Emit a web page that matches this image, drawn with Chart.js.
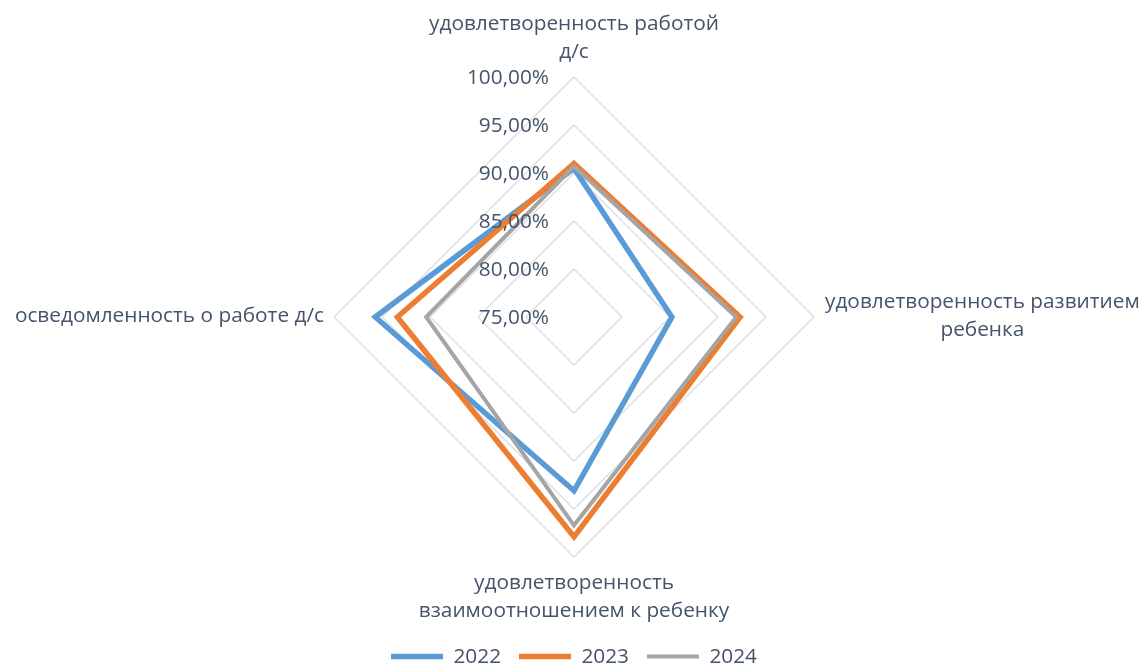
<!DOCTYPE html>
<html>
<head>
<meta charset="utf-8">
<script src="https://cdn.jsdelivr.net/npm/chart.js@4.4.1/dist/chart.umd.min.js"></script>
<style>
  html, body { margin: 0; padding: 0; background: #fff; }
  #wrap { width: 1140px; height: 668px; }
</style>
</head>
<body>
<div id="wrap"><canvas id="radar"></canvas></div>
<script>
const categories = [
  ["удовлетворенность работой", "д/с"],
  ["удовлетворенность развитием", "ребенка"],
  ["удовлетворенность", "взаимоотношением к ребенку"],
  ["осведомленность о работе д/с"]
];
const years = ["2022", "2023", "2024"];
const values2022 = [90.5, 85.2, 93.1, 95.7];
const values2023 = [91.0, 92.3, 97.9, 93.4];
const values2024 = [90.7, 91.9, 96.7, 90.4];
const tickValues = [75, 80, 85, 90, 95, 100];

const textColor = "#44546a";
const fontFamily = '"Open Sans", sans-serif';
const fontSize = 20.8;
const lineH = 28;

// Excel-style labels: ticks left of the axis, category labels as centered blocks
const excelLabels = {
  id: "excelLabels",
  afterDatasetsDraw(chart) {
    const r = chart.scales.r;
    const ctx = chart.ctx;
    ctx.save();
    ctx.fillStyle = textColor;
    ctx.font = fontSize + "px " + fontFamily;
    ctx.textBaseline = "middle";

    ctx.textAlign = "right";
    r.ticks.forEach(t => {
      const d = r.getDistanceFromCenterForValue(t.value);
      ctx.fillText(t.label, r.xCenter - 25, r.yCenter - d + 1.5);
    });

    categories.forEach((lines, i) => {
      const p = r.getPointPosition(i, r.drawingArea);
      const n = lines.length;
      ctx.textAlign = "center";
      if (Math.abs(p.x - r.xCenter) < 1) {
        lines.forEach((s, k) => {
          const y = p.y < r.yCenter
            ? p.y - 25 - (n - 1 - k) * lineH
            : p.y + 26 + k * lineH;
          ctx.fillText(s, p.x, y);
        });
      } else {
        const w = Math.max(...lines.map(s => ctx.measureText(s).width));
        const cx = p.x > r.xCenter ? p.x + 11 + w / 2 : p.x - 10 - w / 2;
        lines.forEach((s, k) => {
          ctx.fillText(s, cx, p.y - 1 + (k - (n - 1) / 2) * lineH);
        });
      }
    });
    ctx.restore();
  }
};

function series(label, data, color, width, order) {
  return {
    label, data, order,
    borderColor: color,
    backgroundColor: color,
    borderWidth: width,
    fill: false,
    pointRadius: 0,
    pointHoverRadius: 0,
    borderCapStyle: "round",
    borderJoinStyle: "miter"
  };
}

new Chart(document.getElementById("radar"), {
  type: "radar",
  data: {
    labels: categories,
    datasets: [
      series(years[0], values2022, "#5b9bd5", 5.5, 3),
      series(years[1], values2023, "#ed7d31", 5.5, 2),
      series(years[2], values2024, "#a5a5a5", 4, 1)
    ]
  },
  options: {
    responsive: true,
    maintainAspectRatio: false,
    animation: false,
    layout: { padding: { top: 6, bottom: -9, left: 334, right: 326 } },
    plugins: {
      tooltip: { enabled: false },
      legend: {
        position: "bottom",
        labels: {
          usePointStyle: true,
          pointStyle: "line",
          pointStyleWidth: 52,
          padding: 18,
          color: textColor,
          font: { family: fontFamily, size: fontSize },
          sort: (a, b) => a.datasetIndex - b.datasetIndex
        }
      }
    },
    scales: {
      r: {
        min: tickValues[0],
        max: tickValues[tickValues.length - 1],
        ticks: {
          display: false,
          stepSize: tickValues[1] - tickValues[0],
          callback: v => v.toFixed(2).replace(".", ",") + "%"
        },
        pointLabels: { display: false },
        angleLines: { display: false },
        grid: { color: "#d9dee6", lineWidth: 1.3 }
      }
    }
  },
  plugins: [excelLabels]
});
</script>
</body>
</html>
